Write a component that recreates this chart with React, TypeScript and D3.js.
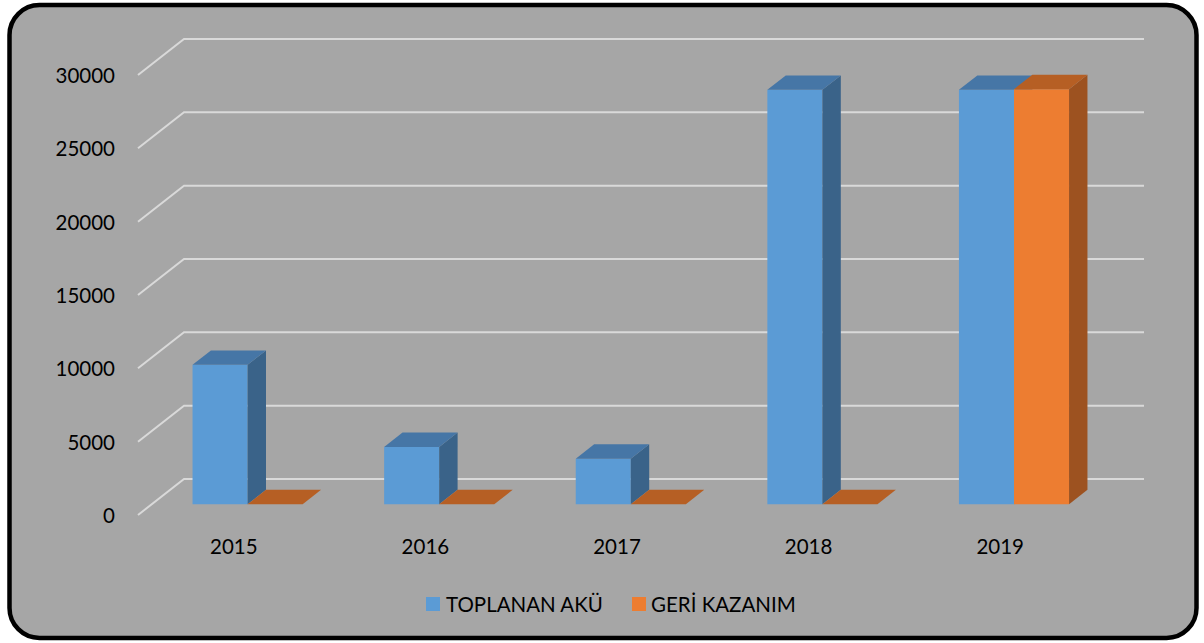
import React from "react";
import * as d3 from "d3";

const categories = ["2015", "2016", "2017", "2018", "2019"];
const seriesNames = ["TOPLANAN AKÜ", "GERİ KAZANIM"];
const toplananAku = [9500, 3900, 3100, 28250, 28250];
const geriKazanim = [0, 0, 0, 0, 28300];
const yTicks = [0, 5000, 10000, 15000, 20000, 25000, 30000];

const W = 1204;
const H = 643;
const DX = 46; // depth offset x
const DY = 36; // depth offset y
const Z0 = 0.3;
const Z1 = 0.7;

const colors = [
  { front: "#5b9bd5", side: "#3a6389", top: "#4676a6" },
  { front: "#ed7d31", side: "#9d5220", top: "#b65f24" },
];

const FONT = "Lato, 'Open Sans', sans-serif";

export default function App() {
  const y = d3.scaleLinear().domain([0, 30000]).range([515, 75]);
  const x0 = d3.scaleBand<string>().domain(categories).range([138, 1096]).paddingInner(0).paddingOuter(0);
  const x1 = d3
    .scaleBand<string>()
    .domain(seriesNames)
    .range([0, x0.step()])
    .paddingInner(0)
    .paddingOuter(0.74);

  const P = (x: number, v: number, z: number): [number, number] => [x + DX * z, y(v) - DY * z];
  const poly = (pts: [number, number][]) => "M" + pts.map((p) => p.join(",")).join("L") + "Z";

  const seriesData = [toplananAku, geriKazanim];

  const bars: React.ReactNode[] = [];
  categories.forEach((c, ci) => {
    seriesNames.forEach((s, si) => {
      const v = seriesData[si][ci];
      const xl = (x0(c) as number) + (x1(s) as number);
      const xr = xl + x1.bandwidth();
      const col = colors[si];
      const front = poly([P(xl, 0, Z0), P(xr, 0, Z0), P(xr, v, Z0), P(xl, v, Z0)]);
      const side = poly([P(xr, 0, Z0), P(xr, 0, Z1), P(xr, v, Z1), P(xr, v, Z0)]);
      const top = poly([P(xl, v, Z0), P(xr, v, Z0), P(xr, v, Z1), P(xl, v, Z1)]);
      bars.push(
        <g key={c + s}>
          {v > 0 && <path d={front} fill={col.front} />}
          {v > 0 && <path d={side} fill={col.side} />}
          <path d={top} fill={col.top} />
        </g>
      );
    });
  });

  const xLeft = 138;
  const xRight = 1098;

  return (
    <svg
      width={W}
      height={H}
      style={{ position: "absolute", left: 0, top: 0 }}
      xmlns="http://www.w3.org/2000/svg"
    >
      <rect x={9.5} y={5} width={1187} height={633} rx={30} ry={30} fill="#a6a6a6" stroke="#000" strokeWidth={4.5} />
      {yTicks.map((t) => {
        const a = P(xLeft, t, 0);
        const b = P(xLeft, t, 1);
        const c = P(xRight, t, 1);
        return (
          <path
            key={"g" + t}
            d={`M${a[0]},${a[1]}L${b[0]},${b[1]}L${c[0]},${c[1]}`}
            fill="none"
            stroke="#d9d9d9"
            strokeWidth={2}
          />
        );
      })}
      {yTicks.map((t) => (
        <text
          key={"yl" + t}
          x={115}
          y={y(t)}
          textAnchor="end"
          dominantBaseline="central"
          fontFamily={FONT}
          fontSize={20.5}
          fill="#000"
        >
          {t}
        </text>
      ))}
      {bars}
      {categories.map((c) => (
        <text
          key={"xl" + c}
          x={(x0(c) as number) + x0.bandwidth() / 2}
          y={546}
          textAnchor="middle"
          dominantBaseline="central"
          fontFamily={FONT}
          fontSize={20.5}
          fill="#000"
        >
          {c}
        </text>
      ))}
      <g>
        <rect x={426} y={597} width={14} height={14} fill={colors[0].front} />
        <text x={446} y={604} dominantBaseline="central" fontFamily={FONT} fontSize={20.5} fill="#000">
          {seriesNames[0]}
        </text>
        <rect x={632} y={597} width={14} height={14} fill={colors[1].front} />
        <text x={651} y={604} dominantBaseline="central" fontFamily={FONT} fontSize={20.5} fill="#000">
          {seriesNames[1]}
        </text>
      </g>
    </svg>
  );
}
